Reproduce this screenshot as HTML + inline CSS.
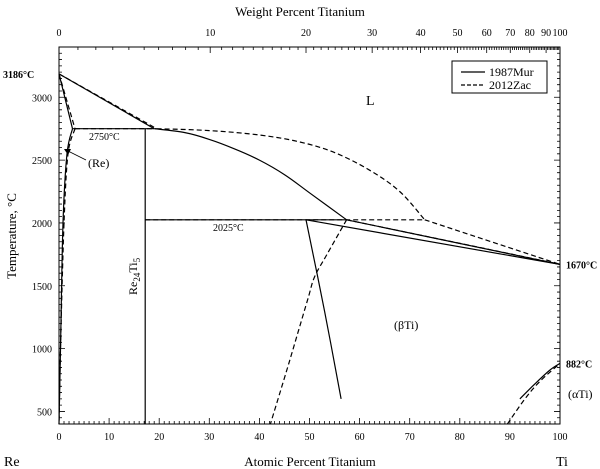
<!DOCTYPE html>
<html><head><meta charset="utf-8"><style>
body{margin:0;background:#fff}
svg{display:block;font-family:"Liberation Serif",serif}
</style></head><body>
<svg id="c" width="600" height="469" viewBox="0 0 600 469"></svg>
<script>
const yTicks=[500,1000,1500,2000,2500,3000];
const xTicks=[0,10,20,30,40,50,60,70,80,90,100];
const wTicks=[0,10,20,30,40,50,60,70,80,90,100];
const murLiquidusRe=[[0,3186],[19,2750]];
const murSolidusRe=[[0,3186],[2.7,2750]];
const murSolvusRe=[[2.7,2750],[1.6,2550],[0.8,2000],[0.3,1000],[0,400]];
const murPeritectic=[[2.7,2750],[19,2750]];
const murLiquidus=[[19,2750],[25,2720],[30,2665],[35,2590],[40,2500],[45,2385],[50,2240],[57.4,2025]];
const murLiqTi=[[57.4,2025],[100,1670]];
const murSolTi=[[49.3,2025],[100,1670]];
const murEutectic=[[17.2,2025],[57.4,2025]];
const murCompound=[[17.2,2750],[17.2,400]];
const murSolvusBeta=[[49.3,2025],[53,1300],[56.3,600]];
const murAlpha=[[92,600],[95,720],[98,830],[100,882]];
const zacLiquidusRe=[[0,3186],[19.5,2750]];
const zacSolidusRe=[[0,3186],[3.2,2750]];
const zacSolvusRe=[[3.2,2750],[1.8,2550],[1,2000],[0.3,1000],[0,400]];
const zacPeritectic=[[3.2,2750],[19.5,2750]];
const zacLiquidus=[[19.5,2750],[30,2735],[40,2700],[48,2645],[55,2560],[62,2420],[68,2250],[73,2025]];
const zacLiqTi=[[73,2025],[100,1670]];
const zacSolTi=[[57.4,2025],[100,1672]];
const zacEutectic=[[17.2,2025],[73,2025]];
const zacSolvusBeta=[[57.4,2025],[53.5,1750],[51,1570],[49.6,1385],[46,900],[42.2,400]];
const zacAlpha=[[89.5,400],[93,600],[96,740],[100,882]];

const X0=59,X1=560,Y0=424,Y1=47,TMIN=400,TMAX=3400;
const sx=a=>X0+(X1-X0)*a/100;
const sy=t=>Y0-(Y0-Y1)*(t-TMIN)/(TMAX-TMIN);
const wToA=w=>{if(w>=100)return 100;const a=w/47.867,b=(100-w)/186.207;return 100*a/(a+b);};
const svg=document.getElementById('c');
const NS='http://www.w3.org/2000/svg';
function mk(tag,at,parent){const e=document.createElementNS(NS,tag);for(const k in at)e.setAttribute(k,at[k]);(parent||svg).appendChild(e);return e;}
function txt(x,y,s,at){const e=mk('text',Object.assign({x:x,y:y,'font-size':11},at||{}));e.textContent=s;return e;}

const fr=mk('rect',{x:X0,y:Y1,width:X1-X0,height:Y0-Y1,fill:'none',stroke:'#000','stroke-width':1});



let tp='';
for(let a=0;a<=100;a++){const L=a%10===0?6:3;tp+=`M${sx(a)} ${Y0}v${-L}`;}
for(let w=0;w<=100;w++){const L=w%10===0?6:3;tp+=`M${sx(wToA(w))} ${Y1}v${L}`;}
for(let t=400;t<=3400;t+=50){const L=t%500===0?6:3;tp+=`M${X0} ${sy(t)}h${L}M${X1} ${sy(t)}h${-L}`;}
const tk=mk('path',{d:tp,stroke:'#000','stroke-width':0.8,fill:'none'});



xTicks.forEach(v=>{const e=txt(sx(v),440,String(v),{'text-anchor':'middle','font-size':10});

});
wTicks.forEach(v=>{const e=txt(sx(wToA(v)),36,String(v),{'text-anchor':'middle','font-size':10});

});
yTicks.forEach(v=>{const e=txt(52,sy(v)+4,String(v),{'text-anchor':'end','font-size':10});

});

function line(pts,dash,name){
  const P=pts.map(p=>[sx(p[0]),sy(p[1])]);
  let d='M'+P[0][0].toFixed(1)+' '+P[0][1].toFixed(1);
  if(P.length<3){d+='L'+P[1][0].toFixed(1)+' '+P[1][1].toFixed(1);}
  else{
    for(let i=0;i<P.length-1;i++){
      const p0=P[i-1]||P[i],p1=P[i],p2=P[i+1],p3=P[i+2]||P[i+1];
      const c1=[p1[0]+(p2[0]-p0[0])/6,p1[1]+(p2[1]-p0[1])/6];
      const c2=[p2[0]-(p3[0]-p1[0])/6,p2[1]-(p3[1]-p1[1])/6];
      d+=`C${c1[0].toFixed(1)} ${c1[1].toFixed(1)} ${c2[0].toFixed(1)} ${c2[1].toFixed(1)} ${p2[0].toFixed(1)} ${p2[1].toFixed(1)}`;
    }
  }
  const e=mk('path',{d:d,fill:'none',stroke:'#000','stroke-width':1.2});
  if(dash)e.setAttribute('stroke-dasharray','5,3');
  
  
}
line(murLiquidusRe,false,'mur-liquidus-re');
line(murSolidusRe,false,'mur-solidus-re');
line(murSolvusRe,false,'mur-solvus-re');
line(murPeritectic,false,'mur-peritectic');
line(murLiquidus,false,'mur-liquidus');
line(murLiqTi,false,'mur-liquidus-ti');
line(murSolTi,false,'mur-solidus-ti');
line(murEutectic,false,'mur-eutectic');
line(murCompound,false,'mur-compound');
line(murSolvusBeta,false,'mur-solvus-beta');
line(murAlpha,false,'mur-alpha');
line(zacLiquidusRe,true,'zac-liquidus-re');
line(zacSolidusRe,true,'zac-solidus-re');
line(zacSolvusRe,true,'zac-solvus-re');
line(zacPeritectic,true,'zac-peritectic');
line(zacLiquidus,true,'zac-liquidus');
line(zacLiqTi,true,'zac-liquidus-ti');
line(zacSolTi,true,'zac-solidus-ti');
line(zacEutectic,true,'zac-eutectic');
line(zacSolvusBeta,true,'zac-solvus-beta');
line(zacAlpha,true,'zac-alpha');

function lab(x,y,s,name,at){const e=txt(x,y,s,at);return e;}
lab(300,16,'Weight Percent Titanium','top-axis-title',{'text-anchor':'middle','font-size':13});
lab(310,466,'Atomic Percent Titanium','x-axis-title',{'text-anchor':'middle','font-size':13});
lab(4,466,'Re','re-label',{'font-size':14});
lab(556,466,'Ti','ti-label',{'font-size':14});
lab(0,0,'Temperature, °C','y-axis-title',{'font-size':13,'text-anchor':'middle',transform:'translate(16,236) rotate(-90)'});
lab(3,sy(3186)+4,'3186°C','label-3186',{'font-size':10,'font-weight':'bold'});
lab(566,sy(1670)+4,'1670°C','label-1670',{'font-size':10,'font-weight':'bold'});
lab(566,sy(882)+4,'882°C','label-882',{'font-size':10,'font-weight':'bold'});
lab(568,398,'(αTi)','alpha-ti-label',{'font-size':12});
lab(366,105,'L','liquid-label',{'font-size':14});
lab(394,329,'(βTi)','beta-ti-label',{'font-size':12});
lab(89,140,'2750°C','label-2750',{'font-size':10});
lab(213,231,'2025°C','label-2025',{'font-size':10});
lab(88,167,'(Re)','re-phase-label',{'font-size':12});
const ar=mk('path',{d:'M86 160L68 151',stroke:'#000','stroke-width':0.8,fill:'none'});


const ah=mk('path',{d:'M64 149L71 149L68 155Z',fill:'#000'});


const cmp=txt(0,0,'',{'font-size':12,transform:'translate(137,295) rotate(-90)'});


cmp.innerHTML='Re<tspan dy="3" font-size="9">24</tspan><tspan dy="-3">Ti</tspan><tspan dy="3" font-size="9">5</tspan>';

const lg=mk('g',{});


mk('rect',{x:452,y:61,width:95,height:32,fill:'#fff',stroke:'#000','stroke-width':1},lg);
mk('path',{d:'M461 72h24',stroke:'#000','stroke-width':1.2},lg);
mk('path',{d:'M461 85h24',stroke:'#000','stroke-width':1.2,'stroke-dasharray':'4,2'},lg);
const l1=mk('text',{x:489,y:76,'font-size':12},lg);l1.textContent='1987Mur';


const l2=mk('text',{x:489,y:89,'font-size':12},lg);l2.textContent='2012Zac';


</script>
</body></html>
